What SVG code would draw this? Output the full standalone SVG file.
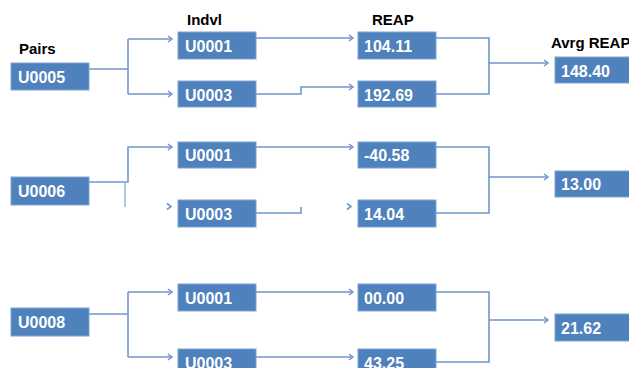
<svg xmlns="http://www.w3.org/2000/svg" width="629" height="368" viewBox="0 0 629 368">
<style>
.box{fill:#4F81BD;stroke:#7FA3D3;stroke-width:1}
.t{font-family:"Liberation Sans",Arial,sans-serif;font-weight:bold;font-size:16px;fill:#ffffff}
.h{font-family:"Liberation Sans",Arial,sans-serif;font-weight:bold;font-size:15px;fill:#000000}
.c{fill:none;stroke:#7096CC;stroke-width:1.6}
.ah{fill:none;stroke:#7096CC;stroke-width:1.6}
</style>
<defs>
<marker id="arr" markerUnits="userSpaceOnUse" markerWidth="8" markerHeight="8" refX="5" refY="4" orient="auto">
<path d="M1,1 L5,4 L1,7" fill="none" stroke="#7096CC" stroke-width="1.5"/>
</marker>
</defs>
<rect width="629" height="368" fill="#ffffff"/>
<g id="labels">
<text class="h" x="19" y="54">Pairs</text>
<text class="h" x="187" y="25">Indvl</text>
<text class="h" x="372" y="25">REAP</text>
<text class="h" x="551" y="48">Avrg REAP</text>
</g>
<g id="connectors">
<!-- group 1 -->
<path class="c" d="M89,69 H128"/>
<path class="c" d="M128,39 V94"/>
<path class="c" d="M128,39 H172" marker-end="url(#arr)"/>
<path class="c" d="M128,94 H172" marker-end="url(#arr)"/>
<path class="c" d="M256,38 H353" marker-end="url(#arr)"/>
<path class="c" d="M256,94 H301 V87 H353" marker-end="url(#arr)"/>
<path class="c" d="M436,38 H489 V94 H436"/>
<path class="c" d="M489,63 H548" marker-end="url(#arr)"/>
<!-- group 2 -->
<path class="c" d="M89,182 H128 V147 H172" marker-end="url(#arr)"/>
<path class="c" d="M125,182 V207" style="stroke:#9DB8DD"/>
<path class="ah" d="M167,203.5 L171,206.5 L167,209.5"/>
<path class="c" d="M256,147 H353" marker-end="url(#arr)"/>
<path class="c" d="M256,213 H301 V207"/>
<path class="ah" d="M347,203.5 L351,206.5 L347,209.5"/>
<path class="c" d="M436,147 H489 V213 H436"/>
<path class="c" d="M489,177 H548" marker-end="url(#arr)"/>
<!-- group 3 -->
<path class="c" d="M89,314 H128"/>
<path class="c" d="M128,292 V357"/>
<path class="c" d="M128,292 H172" marker-end="url(#arr)"/>
<path class="c" d="M128,357 H172" marker-end="url(#arr)"/>
<path class="c" d="M256,292 H353" marker-end="url(#arr)"/>
<path class="c" d="M256,357 H353" marker-end="url(#arr)"/>
<path class="c" d="M436,292 H489 V362 H436"/>
<path class="c" d="M489,320 H548" marker-end="url(#arr)"/>
</g>
<g id="n-u0005"><rect class="box" x="11" y="63" width="78" height="27"/><text class="t" x="18" y="83">U0005</text></g>
<g id="n-g1-u0001"><rect class="box" x="178" y="32" width="78" height="27"/><text class="t" x="185" y="52">U0001</text></g>
<g id="n-g1-u0003"><rect class="box" x="178" y="81" width="78" height="26"/><text class="t" x="185" y="101">U0003</text></g>
<g id="n-r10411"><rect class="box" x="358" y="32" width="78" height="27"/><text class="t" x="364" y="52">104.11</text></g>
<g id="n-r19269"><rect class="box" x="358" y="81" width="78" height="26"/><text class="t" x="364" y="101">192.69</text></g>
<g id="n-a14840"><rect class="box" x="555" y="57" width="78" height="26"/><text class="t" x="561" y="77">148.40</text></g>

<g id="n-u0006"><rect class="box" x="11" y="177" width="78" height="28"/><text class="t" x="18" y="197">U0006</text></g>
<g id="n-g2-u0001"><rect class="box" x="178" y="142" width="78" height="26"/><text class="t" x="185" y="161">U0001</text></g>
<g id="n-g2-u0003"><rect class="box" x="178" y="200" width="78" height="27"/><text class="t" x="185" y="220">U0003</text></g>
<g id="n-r4058"><rect class="box" x="358" y="142" width="78" height="26"/><text class="t" x="364" y="161">-40.58</text></g>
<g id="n-r1404"><rect class="box" x="358" y="200" width="78" height="27"/><text class="t" x="364" y="220">14.04</text></g>
<g id="n-a1300"><rect class="box" x="555" y="171" width="78" height="26"/><text class="t" x="561" y="190">13.00</text></g>

<g id="n-u0008"><rect class="box" x="11" y="308" width="78" height="28"/><text class="t" x="18" y="328">U0008</text></g>
<g id="n-g3-u0001"><rect class="box" x="178" y="284" width="78" height="27"/><text class="t" x="185" y="304">U0001</text></g>
<g id="n-g3-u0003"><rect class="box" x="178" y="349" width="78" height="27"/><text class="t" x="185" y="369">U0003</text></g>
<g id="n-r0000"><rect class="box" x="358" y="284" width="78" height="27"/><text class="t" x="364" y="304">00.00</text></g>
<g id="n-r4325"><rect class="box" x="358" y="349" width="78" height="27"/><text class="t" x="364" y="369">43.25</text></g>
<g id="n-a2162"><rect class="box" x="555" y="314" width="78" height="27"/><text class="t" x="561" y="334">21.62</text></g>
</svg>
